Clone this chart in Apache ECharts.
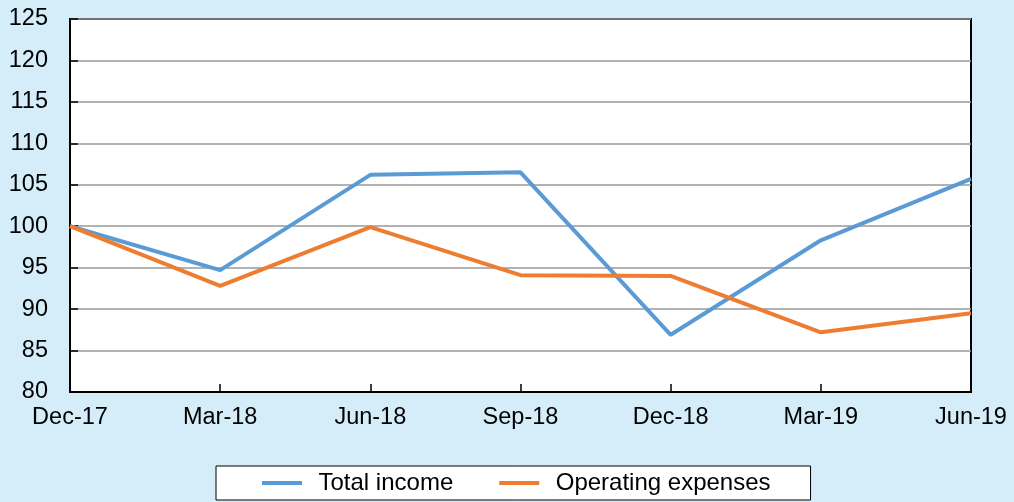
<!DOCTYPE html>
<html>
<head>
<meta charset="utf-8">
<script src="https://cdn.jsdelivr.net/npm/echarts@6/dist/echarts.min.js"></script>
<style>
  html, body { margin: 0; padding: 0; background: #D4EDF9; }
  #chart { width: 1014px; height: 502px; }
</style>
</head>
<body>
<div id="chart"></div>
<script>
// categories on the x axis
const quarters = ['Dec-17', 'Mar-18', 'Jun-18', 'Sep-18', 'Dec-18', 'Mar-19', 'Jun-19']
// index values (Dec-17 = 100)
const totalIncome = [100, 94.7, 106.2, 106.5, 86.9, 98.3, 105.7]
const operatingExpenses = [100, 92.8, 99.9, 94.1, 94.0, 87.2, 89.5]

const myChart = echarts.init(document.getElementById('chart'))

const font = 'Liberation Sans, Arial, sans-serif'

const option = {
  backgroundColor: '#D4EDF9',
  animation: false,
  textStyle: { fontFamily: font },
  grid: {
    left: 70,
    right: 43,
    top: 19,
    bottom: 110,
    show: true,
    backgroundColor: '#FFFFFF',
    borderColor: '#000000',
    borderWidth: 2
  },
  legend: {
    bottom: 2,
    left: 216,
    icon: 'path://M0,0 L10,0 L10,1 L0,1 Z',
    itemWidth: 53,
    itemHeight: 4,
    itemGap: 46,
    padding: [5, 40, 5, 46],
    backgroundColor: '#FFFFFF',
    borderColor: '#000000',
    borderWidth: 1,
    textStyle: { fontFamily: font, fontSize: 24, color: '#000000', padding: [0, 0, 0, 5] },
    data: ['Total income', 'Operating expenses']
  },
  xAxis: {
    type: 'category',
    boundaryGap: false,
    data: quarters,
    axisLine: { lineStyle: { color: '#000000', width: 2 } },
    axisTick: { inside: true, length: 8, lineStyle: { color: '#000000', width: 1.5 } },
    axisLabel: { fontFamily: font, fontSize: 23.5, color: '#000000', margin: 14 },
    splitLine: { show: false }
  },
  yAxis: {
    type: 'value',
    min: 80,
    max: 125,
    interval: 5,
    axisLine: { show: true, lineStyle: { color: '#000000', width: 2 } },
    axisTick: { show: true, inside: true, length: 8, lineStyle: { color: '#000000', width: 1.5 } },
    axisLabel: { fontFamily: font, fontSize: 23.5, color: '#000000', margin: 22 },
    splitLine: { lineStyle: { color: '#999999', width: 1.5 } }
  },
  series: [
    {
      name: 'Total income',
      type: 'line',
      data: totalIncome,
      symbol: 'none',
      color: '#5B9BD5',
      lineStyle: { width: 4, color: '#5B9BD5' }
    },
    {
      name: 'Operating expenses',
      type: 'line',
      data: operatingExpenses,
      symbol: 'none',
      color: '#ED7D31',
      lineStyle: { width: 4, color: '#ED7D31' }
    }
  ]
}

myChart.setOption(option)
</script>
</body>
</html>
